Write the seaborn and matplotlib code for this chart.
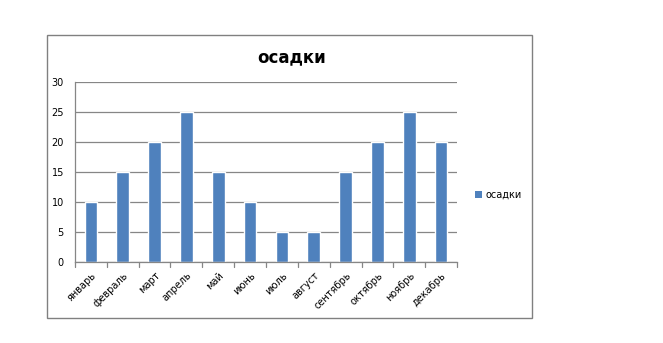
import matplotlib
matplotlib.use("Agg")
import matplotlib.pyplot as plt
import seaborn as sns
import pandas as pd
from matplotlib.patches import Rectangle

months = ["январь", "февраль", "март", "апрель", "май", "июнь",
          "июль", "август", "сентябрь", "октябрь", "ноябрь", "декабрь"]
values = [10, 15, 20, 25, 15, 10, 5, 5, 15, 20, 25, 20]
series_name = "осадки"
yticks = [0, 5, 10, 15, 20, 25, 30]

sns.set_style("white")
plt.rcParams['font.family'] = ['DejaVu Sans']
plt.rcParams['text.color'] = 'black'
plt.rcParams['xtick.color'] = 'black'
plt.rcParams['ytick.color'] = 'black'

df = pd.DataFrame({"month": months, "value": values})

fig = plt.figure(figsize=(6.63, 3.43), dpi=100)
fig.patch.set_facecolor("white")

# outer chart border
fig.patches.append(Rectangle((0.0709, 0.0729), 0.7315, 0.825, transform=fig.transFigure,
                             fill=False, edgecolor="#808080", linewidth=1.0))

ax = fig.add_axes([0.1131, 0.2362, 0.5762, 0.5248])
sns.barplot(data=df, x="month", y="value", color="#4F81BD", width=0.4,
            saturation=1, ax=ax)
if ax.get_legend() is not None:
    ax.get_legend().remove()

ax.set_ylim(0, 30)
ax.set_xlim(-0.5, len(months) - 0.5)
ax.set_yticks(yticks)
ax.set_yticklabels([str(t) for t in yticks], fontsize=7, color="black")
ax.yaxis.grid(True, color="#868686", linewidth=0.9)
ax.set_axisbelow(True)
ax.set_xlabel("")
ax.set_ylabel("")

for s in ["top", "right"]:
    ax.spines[s].set_visible(False)
for s in ["left", "bottom"]:
    ax.spines[s].set_color("#868686")
    ax.spines[s].set_linewidth(0.9)

ax.tick_params(axis="y", direction="out", length=4, color="#868686", width=0.9, pad=4,
               labelcolor="black")
ax.set_xticks(range(len(months)))
ax.set_xticklabels(months, rotation=45, ha="right", rotation_mode="anchor", fontsize=7,
                   color="black")
ax.tick_params(axis="x", length=0, pad=6, labelcolor="black")
for b in range(len(months) + 1):
    ax.plot([b - 0.5, b - 0.5], [0, -0.8], color="#868686", linewidth=0.9, clip_on=False)

fig.text(0.4404, 0.834, "осадки", ha="center", va="center", fontsize=12,
         fontweight="bold", color="black")

# legend
fig.patches.append(Rectangle((0.7165, 0.422), 0.011, 0.021, transform=fig.transFigure,
                             facecolor="#4F81BD", edgecolor="none"))
fig.text(0.7320, 0.432, series_name, ha="left", va="center", fontsize=7, color="black")

fig.savefig("out.png", dpi=100, facecolor="white")
